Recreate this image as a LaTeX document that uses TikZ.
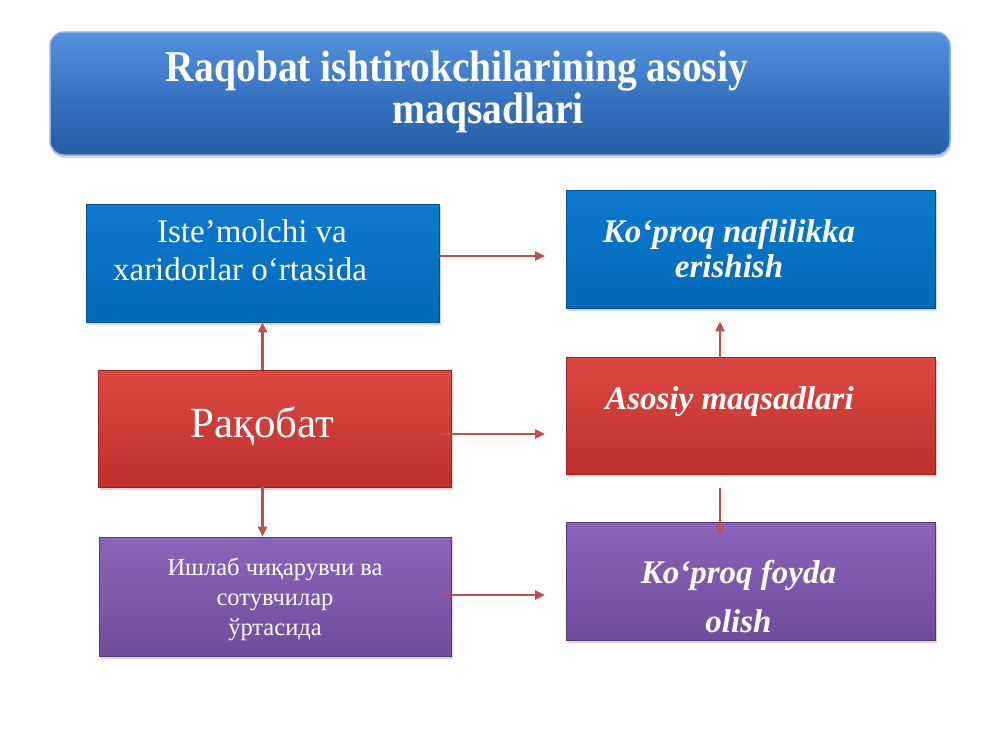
\documentclass[tikz,border=0pt]{standalone}
\usepackage{fontspec}
\setmainfont{Liberation Serif}
\newfontfamily\hdrfont[FakeStretch=0.9]{Liberation Serif}
\usetikzlibrary{arrows.meta,shadows,calc}
\definecolor{arrowred}{RGB}{192,80,77}
\definecolor{blueT}{RGB}{14,122,206}
\definecolor{blueB}{RGB}{0,104,184}
\definecolor{blueD}{RGB}{0,80,150}
\definecolor{redT}{RGB}{222,72,66}
\definecolor{redB}{RGB}{190,48,46}
\definecolor{redD}{RGB}{150,36,34}
\definecolor{purT}{RGB}{140,100,186}
\definecolor{purB}{RGB}{112,76,156}
\definecolor{purD}{RGB}{86,56,122}
\definecolor{hdrT}{RGB}{84,146,220}
\definecolor{hdrM}{RGB}{56,116,194}
\definecolor{hdrB}{RGB}{38,92,166}
\definecolor{hdrRim}{RGB}{140,180,232}
\tikzset{
  boxbase/.style={rectangle, inner sep=0pt, line width=0.8pt,
    drop shadow={shadow xshift=2pt, shadow yshift=-3pt, opacity=.3}},
  bluebox/.style={boxbase, top color=blueT, bottom color=blueB, draw=blueD},
  redbox/.style={boxbase, top color=redT, bottom color=redB, draw=redD},
  purbox/.style={boxbase, top color=purT, bottom color=purB, draw=purD},
  txt/.style={text=white, align=center, inner sep=0pt, anchor=base},
  arr/.style={draw=arrowred, line width=2.4pt, -{Triangle[length=10pt,width=9pt]}},
}
\begin{document}
\begin{tikzpicture}[x=1pt,y=-1pt]
\useasboundingbox (0,0) rectangle (1000,750);
\fill[white] (0,0) rectangle (1000,750);

% header
\node[rectangle, rounded corners=14pt, minimum width=900pt, minimum height=123pt,
      top color=hdrT, bottom color=hdrB, middle color=hdrM, draw=hdrRim, line width=1.5pt,
      drop shadow={shadow xshift=1pt, shadow yshift=-3pt, opacity=.3}]
      (hdr) at (500,93.5) {};
\node[txt, font=\hdrfont\bfseries\fontsize{44}{37}\selectfont] (hdrtxt) at (488,123)
  {Raqobat ishtirokchilarining asosiy\hspace*{62pt}\\maqsadlari};

% boxes
\node[bluebox, minimum width=353pt, minimum height=118pt] (blueL) at (262.5,263) {};
\node[bluebox, minimum width=369pt, minimum height=118pt] (blueR) at (750.5,249) {};
\node[redbox, minimum width=353pt, minimum height=117pt] (redL) at (274.5,428.5) {};
\node[redbox, minimum width=369pt, minimum height=117pt] (redR) at (750.5,415.5) {};
\node[purbox, minimum width=352pt, minimum height=119pt] (purL) at (275,596.5) {};
\node[purbox, minimum width=369pt, minimum height=118pt] (purR) at (750.5,581) {};

% texts (anchor = baseline of the last line)
\node[txt, font=\fontsize{33}{38}\selectfont] (tBL) at (240,280)
  {\hspace*{24pt}Iste’molchi va\\xaridorlar o‘rtasida};
\node[txt, font=\bfseries\itshape\fontsize{33}{35}\selectfont] (tBR) at (729,277)
  {Ko‘proq naflilikka\\erishish};
\node[txt, font=\fontsize{43}{48}\selectfont] (tRL) at (262.5,437) {Рақобат};
\node[txt, font=\bfseries\itshape\fontsize{33}{38}\selectfont] (tRR) at (729.5,409)
  {Asosiy maqsadlari};
\node[txt, font=\fontsize{24.5}{30}\selectfont] (tPL) at (275,635)
  {Ишлаб чиқарувчи ва\\сотувчилар\\ўртасида};
\node[txt, font=\bfseries\itshape\fontsize{33}{49}\selectfont] (tPR) at (738.5,632)
  {Ko‘proq foyda\\olish};

% free ends
\coordinate (e1) at (545,256);
\coordinate (e2) at (545,434);
\coordinate (e3) at (545,595);

% connectors
\draw[arr] ([yshift=7pt]blueL.east) -- (e1);
\draw[arr] ([xshift=-11pt,yshift=-5.5pt]redL.east) -- (e2);
\draw[arr] ([xshift=-11pt,yshift=1.5pt]purL.east) -- (e3);
\draw[arr] (redL.north -| blueL.south) -- (blueL.south);
\draw[arr] (redL.south -| blueL.south) -- (purL.north -| blueL.south);
\draw[arr] ([xshift=-30.5pt,yshift=-11pt]redR.north) -- ([xshift=-30.5pt,yshift=-13pt]blueR.south);
\draw[arr] ([xshift=-30.5pt,yshift=-14pt]redR.south) -- ([xshift=-30.5pt,yshift=-13pt]purR.north);
\end{tikzpicture}
\end{document}
